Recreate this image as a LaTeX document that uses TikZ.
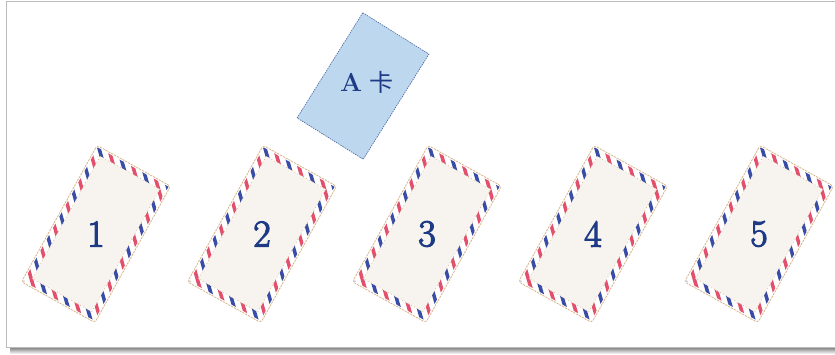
\documentclass[tikz,border=0pt]{standalone}
\usepackage{fontspec}
\newfontfamily\cjk{Noto Sans CJK SC}
\newfontfamily\numfont{Latin Modern Roman}[FakeBold=3]
\definecolor{airred}{HTML}{E2506E}
\definecolor{airblue}{HTML}{3A4DA6}
\definecolor{tan}{HTML}{D6B487}
\definecolor{paper}{HTML}{F7F4EF}
\definecolor{cardblue}{HTML}{BDD7EE}
\definecolor{cardedge}{HTML}{4A63A6}
\definecolor{navy}{HTML}{1E3A85}
\definecolor{framegray}{HTML}{BBBBBB}
\tikzset{
  numlabel/.style={text=navy, font=\numfont\fontsize{38}{40}\selectfont, inner sep=0pt},
  alabel/.style={text=navy, font=\fontsize{26}{28}\selectfont\bfseries, inner sep=0pt},
  outeredge/.style={draw=tan, line width=0.8pt, dash pattern=on 2.2pt off 1pt, rounded corners=3pt},
  inneredge/.style={draw=tan, line width=0.7pt, dash pattern=on 0.7pt off 2.6pt},
}
\newcommand\envcard[4]{%
  \begin{scope}[shift={(#1,#2)}, rotate=-29]
    \fill[white, rounded corners=3pt] (-42,-78) rectangle (42,78);
    \begin{scope}[even odd rule]
      \clip (-40.5,-76.5) rectangle (40.5,76.5) (-34,-70) rectangle (34,70);
      \foreach \i in {-286,-260,...,286} {
        \fill[airred] (\i,-100) -- ++(5,0) -- ++(200,200) -- ++(-5,0) -- cycle;
        \fill[airblue] (\i+13,-100) -- ++(5,0) -- ++(200,200) -- ++(-5,0) -- cycle;
      }
    \end{scope}
    \fill[paper] (-34,-70) rectangle (34,70);
    \draw[inneredge] (-34,-70) rectangle (34,70);
    \draw[outeredge] (-42,-78) rectangle (42,78);
  \end{scope}
  \node[numlabel] (#4) at (#1,#2) {#3};
}
\begin{document}
\begin{tikzpicture}[x=1pt, y=-1pt]
\useasboundingbox (0,0) rectangle (835,354);
% frame and shadow
\foreach \k/\o in {1/0.45,2/0.38,3/0.3,4/0.22,5/0.15,6/0.08} {
  \draw[black, opacity=\o, line width=1pt] (10,347+\k) -- (835,347+\k);
}
\draw[framegray, line width=1pt] (835,1.5) -- (6,1.5) -- (6,347) -- (835,347);
% A card
\begin{scope}[shift={(363,86)}, rotate=-32]
  \filldraw[fill=cardblue, draw=cardedge, line width=0.6pt, dash pattern=on 1.5pt off 1pt] (-39,-62) rectangle (39,62);
\end{scope}
\node[alabel] (acard) at (367,82) {A\hspace{0.3em}{\cjk\mdseries\fontsize{24}{26}\selectfont 卡}};
% envelope cards
\envcard{96}{234}{1}{c1}
\envcard{262}{234}{2}{c2}
\envcard{427}{234}{3}{c3}
\envcard{593}{234}{4}{c4}
\envcard{759}{234}{5}{c5}
\end{tikzpicture}
\end{document}
